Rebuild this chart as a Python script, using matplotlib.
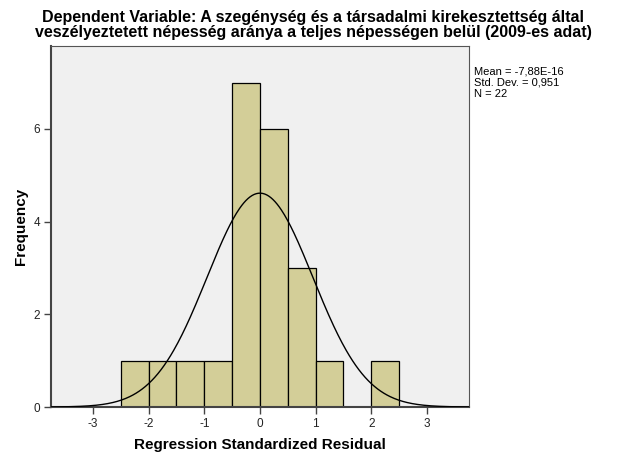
"""
SPSS-style histogram of regression standardized residuals.
"""

import matplotlib
matplotlib.use("Agg")
import matplotlib.pyplot as plt
import numpy as np

plt.rcParams["font.family"] = ["Liberation Sans", "DejaVu Sans"]
plt.rcParams["axes.unicode_minus"] = False

bin_edges = [-2.5, -2.0, -1.5, -1.0, -0.5, 0.0, 0.5, 1.0, 1.5, 2.0, 2.5]
counts = [1, 1, 1, 1, 7, 6, 3, 1, 0, 1]
x_ticks = [-3, -2, -1, 0, 1, 2, 3]
y_ticks = [0, 2, 4, 6]
mean = -7.88e-16
std = 0.951
n = 22

title = ("Dependent Variable: A szegénység és a társadalmi kirekesztettség által\n"
         "veszélyeztetett népesség aránya a teljes népességen belül (2009-es adat)")
stats_text = "Mean = -7,88E-16\nStd. Dev. = 0,951\nN = 22"

fig = plt.figure(figsize=(6.26, 4.66), dpi=100)
ax = fig.add_axes([0.0815, 0.1266, 0.6675, 0.7747])
ax.set_facecolor("#f0f0f0")

edges = np.array(bin_edges)
widths = np.diff(edges)
ax.bar(edges[:-1], counts, width=widths, align="edge", color="#d3ce98",
       edgecolor="black", linewidth=0.9, zorder=2)

xs = np.linspace(-3.75, 3.75, 400)
bw = widths[0]
pdf = n * bw / (std * np.sqrt(2 * np.pi)) * np.exp(-0.5 * ((xs - mean) / std) ** 2)
ax.plot(xs, pdf, color="black", linewidth=1.0, zorder=3)

ax.set_xlim(-3.754, 3.754)
ax.set_ylim(0, 7.79)
ax.set_xticks(x_ticks)
ax.set_yticks(y_ticks)
ax.tick_params(axis="both", direction="out", length=5, width=1, color="#444444",
               labelsize=8.5, labelcolor="#222222", pad=3)
for side in ["top", "right"]:
    ax.spines[side].set_color("#555555")
    ax.spines[side].set_linewidth(0.8)
for side in ["left", "bottom"]:
    ax.spines[side].set_color("#444444")
    ax.spines[side].set_linewidth(1.5)

ax.set_xlabel("Regression Standardized Residual", fontsize=11, fontweight="bold", labelpad=6)
ax.set_ylabel("Frequency", fontsize=11, fontweight="bold")
ax.yaxis.set_label_coords(-0.055, 0.5)

fig.text(0.5, 0.978, title, ha="center", va="top", fontsize=11.5, fontweight="bold",
         linespacing=1.0)
fig.text(0.757, 0.857, stats_text, ha="left", va="top", fontsize=8, linespacing=1.12)

fig.savefig("out.png", dpi=100)
